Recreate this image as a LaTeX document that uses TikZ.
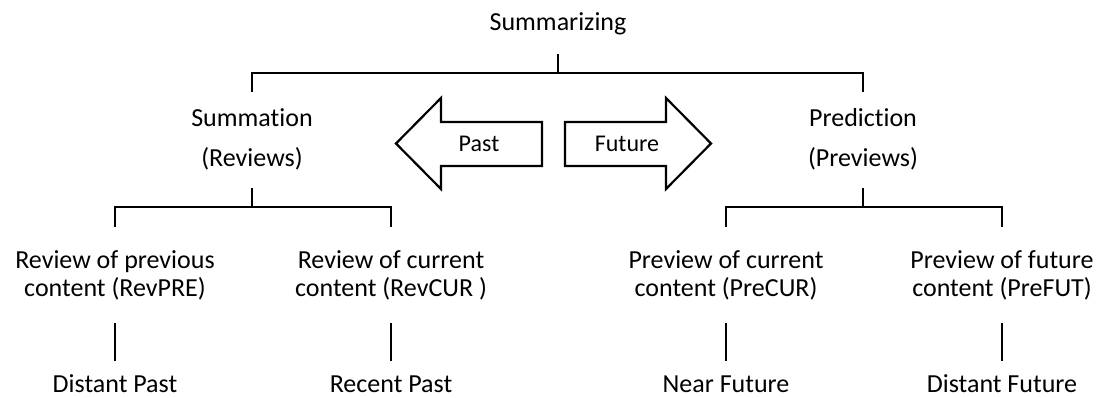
\documentclass[tikz,border=0pt]{standalone}
\usepackage{fontspec}
\setmainfont{Carlito}[Ligatures=NoCommon]
\newcommand{\twoline}[2]{\begin{tabular}[t]{@{}c@{}}#1\\#2\end{tabular}}
\begin{document}
\begin{tikzpicture}[x=1pt,y=-1pt,
  lbl/.style={anchor=base,inner sep=0pt,font=\fontsize{26}{28}\selectfont},
  leaf/.style={lbl,text depth=0pt},
  lbltwo/.style={anchor=base,inner sep=0pt,font=\fontsize{26}{40}\selectfont},
  arrlbl/.style={anchor=center,inner sep=0pt,font=\fontsize{24}{28}\selectfont},
  tree/.style={line width=2.5pt,line join=miter},
  bigarrow/.style={line width=2.2pt,line join=miter,fill=white}]
\useasboundingbox (0,0) rectangle (1098,398);

% texts
\node[lbl] (top) at (558,31) {Summarizing};
\node[lbltwo] (summ) at (252,127) {\twoline{Summation}{(Reviews)}};
\node[lbltwo] (pred) at (863,127) {\twoline{Prediction}{(Previews)}};
\node[lbl] (revpre) at (115,269) {\twoline{Review of previous}{content (RevPRE)}};
\node[lbl] (revcur) at (391,269) {\twoline{Review of current}{content (RevCUR )}};
\node[lbl] (precur) at (726,269) {\twoline{Preview of current}{content (PreCUR)}};
\node[lbl] (prefut) at (1002,269) {\twoline{Preview of future}{content (PreFUT)}};
\node[leaf] (dpast) at (115,392) {Distant Past};
\node[leaf] (rpast) at (391,392) {Recent Past};
\node[leaf] (nfut) at (726,392) {Near Future};
\node[leaf] (dfut) at (1002,392) {Distant Future};

% tree coordinates
\coordinate (t0) at (558,54);
\coordinate (t1) at (558,73);
\coordinate (tl) at (252,73);
\coordinate (tr) at (863,73);
\coordinate (tld) at (252,92);
\coordinate (trd) at (863,92);

\coordinate (s0) at (252,188);
\coordinate (s1) at (252,207);
\coordinate (sl) at (115,207);
\coordinate (sr) at (391,207);
\coordinate (sld) at (115,227);
\coordinate (srd) at (391,227);

\coordinate (p0) at (863,188);
\coordinate (p1) at (863,207);
\coordinate (pl) at (726,207);
\coordinate (pr) at (1002,207);
\coordinate (pld) at (726,227);
\coordinate (prd) at (1002,227);

\draw[tree] (t0) -- (t1);
\draw[tree] (tld) -- (tl) -- (tr) -- (trd);
\draw[tree] (s0) -- (s1);
\draw[tree] (sld) -- (sl) -- (sr) -- (srd);
\draw[tree] (p0) -- (p1);
\draw[tree] (pld) -- (pl) -- (pr) -- (prd);

% leaf connectors
\foreach \x/\n in {115/a,391/b,726/c,1002/d}{
  \coordinate (u\n) at (\x,323);
  \coordinate (v\n) at (\x,361);
  \draw[tree] (u\n) -- (v\n);
}

% big arrows
\draw[bigarrow] (542,122) -- (441,122) -- (441,98) -- (396,143.5) -- (441,189) -- (441,166) -- (542,166) -- cycle;
\draw[bigarrow] (565,122) -- (666,122) -- (666,98) -- (711,143.5) -- (666,189) -- (666,166) -- (565,166) -- cycle;
\node[arrlbl] (past) at (479,144) {Past};
\node[arrlbl] (future) at (627,144) {Future};
\end{tikzpicture}
\end{document}
